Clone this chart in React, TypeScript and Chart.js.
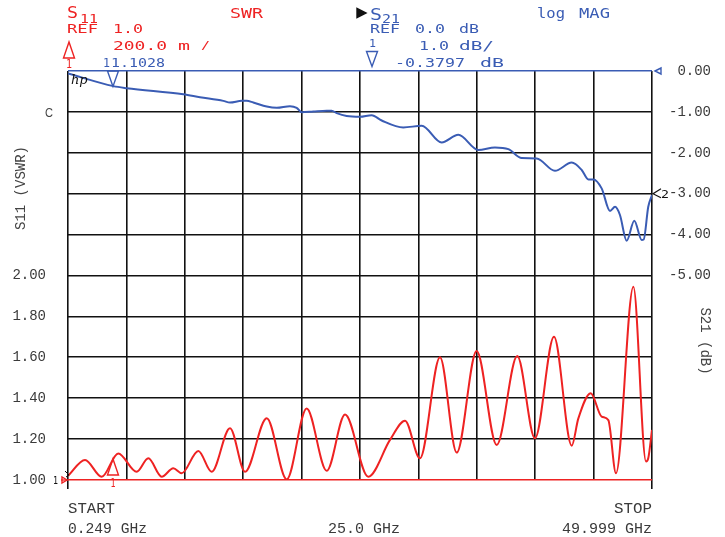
import React, { useEffect, useRef } from "react";
import { Chart, registerables } from "chart.js";

Chart.register(...registerables);

// ---- data ----
const START_GHZ = 0.249;
const STOP_GHZ = 49.999;

const s11Freq = [0.249, 1.7, 3.12, 4.53, 6.1, 7.09, 8.23, 9.22, 9.93, 11.35, 12.49, 14.05, 15.33, 17.18, 18.88, 20.58, 22.29, 23.85, 25.83, 27.68, 28.96, 30.23, 31.94, 33.36, 35.06, 36.77, 38.52, 40.03, 41.65, 43.16, 43.72, 44.78, 45.71, 46.28, 46.93, 48.41, 49.49, 49.68, 49.999];
const s11Vswr = [1.02, 1.098, 1.016, 1.13, 1.04, 1.106, 1.016, 1.057, 1.033, 1.142, 1.04, 1.253, 1.04, 1.302, 1.003, 1.35, 1.045, 1.32, 1.016, 1.196, 1.29, 1.106, 1.6, 1.134, 1.631, 1.171, 1.606, 1.204, 1.7, 1.168, 1.3, 1.424, 1.31, 1.293, 1.033, 1.945, 1.09, 1.106, 1.245];

const s21Freq = [0.249, 4.11, 5.25, 10.07, 11.49, 13.48, 14.05, 15.05, 15.47, 16.03, 17.18, 18.03, 19.16, 19.73, 20.16, 21.15, 22.29, 22.71, 23.14, 23.99, 25.12, 26.12, 26.97, 28.81, 30.38, 32.08, 33.5, 35.2, 36.62, 37.76, 38.9, 40.18, 41.73, 43.16, 44.01, 44.58, 45.0, 45.71, 46.42, 46.85, 47.27, 47.84, 48.49, 49.12, 49.29, 49.68, 49.999];
const s21Db = [-0.06, -0.37, -0.42, -0.57, -0.64, -0.73, -0.77, -0.73, -0.73, -0.77, -0.87, -0.9, -0.86, -0.9, -1.01, -0.99, -0.97, -0.97, -1.03, -1.1, -1.12, -1.08, -1.21, -1.38, -1.34, -1.75, -1.56, -1.93, -1.87, -1.91, -2.13, -2.14, -2.44, -2.24, -2.42, -2.65, -2.65, -2.87, -3.42, -3.32, -3.52, -4.15, -3.66, -4.13, -4.12, -3.32, -3.03];

const markerFreq = [4.08];
const markerS11 = [1.1028];
const markerS21 = [-0.3797];

const vswrLabelMax = 2.0;
const dbLabelMin = -5;
const bottomLabels = ["START", "0.249 GHz", "25.0 GHz", "STOP", "49.999 GHz"];

const RED = "#ee2222";
const BLUE = "#3a5cb4";
const INK = "#111111";
const LABEL = "#3a3a3a";

function fit(ctx: CanvasRenderingContext2D, text: string, x0: number, x1: number, base: number, size: number, color: string, family = "DejaVu Sans Mono") {
  ctx.save();
  ctx.font = `${size}px "${family}"`;
  ctx.fillStyle = color;
  ctx.textBaseline = "alphabetic";
  ctx.textAlign = "left";
  const w = ctx.measureText(text).width;
  ctx.translate(x0, base);
  ctx.scale((x1 - x0) / w, 1);
  ctx.fillText(text, 0, 0);
  ctx.restore();
}

function tri(ctx: CanvasRenderingContext2D, pts: number[][], color: string, fill = false) {
  ctx.save();
  ctx.beginPath();
  ctx.moveTo(pts[0][0], pts[0][1]);
  for (let i = 1; i < pts.length; i++) ctx.lineTo(pts[i][0], pts[i][1]);
  ctx.closePath();
  ctx.lineWidth = 1.4;
  ctx.strokeStyle = color;
  ctx.stroke();
  if (fill) {
    ctx.fillStyle = color;
    ctx.fill();
  }
  ctx.restore();
}

const annotate = {
  id: "annotate",
  afterDatasetsDraw(chart: any) {
    const ctx: CanvasRenderingContext2D = chart.ctx;
    const x = chart.scales.x;
    const y = chart.scales.y;
    const y2 = chart.scales.y2;
    for (let i = 0; i < markerFreq.length; i++) {
      const px = x.getPixelForValue(markerFreq[i]);
      const pyR = y.getPixelForValue(markerS11[i]);
      tri(ctx, [[px, pyR], [px - 5.5, pyR + 16], [px + 5.5, pyR + 16]], RED);
      fit(ctx, String(i + 1), px - 2.5, px + 2.5, pyR + 28, 12, RED);
      const pyB = y2.getPixelForValue(markerS21[i]);
      tri(ctx, [[px, pyB], [px - 5.5, pyB - 15.5], [px + 5.5, pyB - 15.5]], BLUE);
    }
  },
  afterDraw(chart: any) {
    const ctx: CanvasRenderingContext2D = chart.ctx;
    const { left, right, top, bottom } = chart.chartArea;
    // header S11 (red)
    fit(ctx, "S", 67, 78, 18, 15, RED);
    fit(ctx, "11", 80, 98, 23, 13, RED);
    fit(ctx, "SWR", 230, 263, 18, 14, RED);
    fit(ctx, "REF", 67, 98, 33, 12, RED);
    fit(ctx, "1.0", 113, 143, 33, 12, RED);
    fit(ctx, "200.0", 113, 167, 50, 12, RED);
    fit(ctx, "m", 178, 190, 50, 12, RED);
    fit(ctx, "/", 201, 210, 49, 11, RED);
    tri(ctx, [[69, 42], [63.5, 58], [74.5, 58]], RED);
    fit(ctx, "1", 66, 72, 68, 12, RED);
    // marker readout (blue)
    fit(ctx, "1", 103, 110, 67, 13, BLUE);
    fit(ctx, "1.1028", 111, 165, 67, 13, BLUE);
    // header S21 (blue)
    tri(ctx, [[357, 8.5], [357, 17.5], [366, 13]], INK, true);
    fit(ctx, "S", 370, 382, 20, 15, BLUE);
    fit(ctx, "21", 382, 400, 23, 13, BLUE);
    fit(ctx, "log", 537, 565, 18, 14, BLUE);
    fit(ctx, "MAG", 579, 610, 18, 14, BLUE);
    fit(ctx, "REF", 370, 400, 33, 12, BLUE);
    fit(ctx, "0.0", 415, 445, 33, 12, BLUE);
    fit(ctx, "dB", 459, 479, 33, 12, BLUE);
    fit(ctx, "1", 369, 376, 47, 11, BLUE);
    fit(ctx, "1.0", 419, 449, 50, 12, BLUE);
    fit(ctx, "dB/", 459, 494, 50, 12, BLUE);
    tri(ctx, [[366.5, 51.5], [377.5, 51.5], [372, 66.5]], BLUE);
    fit(ctx, "-0.3797", 395, 465, 67, 12, BLUE);
    fit(ctx, "dB", 480, 504, 67, 12, BLUE);
    // reference markers on the graticule edges
    tri(ctx, [[right + 3, top], [right + 9, top - 3], [right + 9, top + 3]], BLUE);
    ctx.save();
    ctx.strokeStyle = INK;
    ctx.lineWidth = 1.2;
    const y2px = chart.scales.y2.getPixelForValue(-3);
    ctx.beginPath();
    ctx.moveTo(right + 9, y2px - 5);
    ctx.lineTo(right + 1, y2px);
    ctx.lineTo(right + 9, y2px + 4);
    ctx.stroke();
    ctx.restore();
    fit(ctx, "2", 661, 669, y2px + 4, 11, INK);
    ctx.save();
    ctx.strokeStyle = RED;
    ctx.lineWidth = 1.3;
    ctx.beginPath();
    ctx.moveTo(61, bottom);
    ctx.lineTo(left, bottom);
    ctx.stroke();
    ctx.restore();
    tri(ctx, [[62, bottom - 3], [62, bottom + 3], [67, bottom]], RED);
    fit(ctx, "1", 53, 58, bottom + 4, 11, INK);
    ctx.save();
    ctx.strokeStyle = INK;
    ctx.lineWidth = 1;
    ctx.beginPath();
    ctx.moveTo(65, bottom - 9);
    ctx.lineTo(69, bottom - 5);
    ctx.lineTo(66, bottom - 3);
    ctx.stroke();
    ctx.restore();
    // hp logo
    ctx.save();
    ctx.font = 'italic 13px "DejaVu Serif"';
    ctx.fillStyle = INK;
    ctx.fillText("hp", 71, 84);
    ctx.restore();
    // "C" mark
    fit(ctx, "C", 45, 53, 117, 13, "#444444", "Liberation Sans");
    // axis titles
    ctx.save();
    ctx.font = '14px "Liberation Mono"';
    ctx.fillStyle = "#444444";
    ctx.textAlign = "center";
    ctx.textBaseline = "middle";
    ctx.translate(21, 188);
    ctx.rotate(-Math.PI / 2);
    ctx.fillText("S11 (VSWR)", 0, 0);
    ctx.restore();
    ctx.save();
    ctx.font = '14px "Liberation Mono"';
    ctx.fillStyle = "#444444";
    ctx.textAlign = "center";
    ctx.textBaseline = "middle";
    ctx.translate(705, 341);
    ctx.rotate(Math.PI / 2);
    ctx.fillText("S21 (dB)", 0, 0);
    ctx.restore();
    // bottom labels
    fit(ctx, bottomLabels[0], left, left + 47, 513, 15, LABEL, "Liberation Mono");
    fit(ctx, bottomLabels[1], left, left + 79, 533, 15, LABEL, "Liberation Mono");
    const mid = chart.scales.x.getPixelForValue((START_GHZ + STOP_GHZ) / 2);
    fit(ctx, bottomLabels[2], mid - 32, mid + 40, 533, 15, LABEL, "Liberation Mono");
    fit(ctx, bottomLabels[3], right - 38, right, 513, 15, LABEL, "Liberation Mono");
    fit(ctx, bottomLabels[4], right - 90, right, 533, 15, LABEL, "Liberation Mono");
  },
};

export default function App() {
  const ref = useRef<HTMLCanvasElement | null>(null);
  useEffect(() => {
    if (!ref.current) return;
    const chart = new Chart(ref.current, {
      type: "line",
      data: {
        datasets: [
          {
            label: "S11",
            data: s11Freq.map((f, i) => ({ x: f, y: s11Vswr[i] })),
            borderColor: RED,
            borderWidth: 2,
            pointRadius: 0,
            cubicInterpolationMode: "monotone",
            yAxisID: "y",
          },
          {
            label: "S21",
            data: s21Freq.map((f, i) => ({ x: f, y: s21Db[i] })),
            borderColor: BLUE,
            borderWidth: 2,
            pointRadius: 0,
            cubicInterpolationMode: "monotone",
            yAxisID: "y2",
          },
        ],
      },
      options: {
        animation: false,
        responsive: false,
        maintainAspectRatio: false,
        layout: { padding: { top: 71, right: 14, bottom: 0, left: 0 } },
        plugins: { legend: { display: false }, tooltip: { enabled: false }, title: { display: false } },
        scales: {
          x: {
            type: "linear",
            min: START_GHZ,
            max: STOP_GHZ,
            afterBuildTicks: (scale: any) => {
              scale.ticks = Array.from({ length: 11 }, (_, i) => ({ value: START_GHZ + (i * (STOP_GHZ - START_GHZ)) / 10 }));
            },
            afterFit: (scale: any) => {
              scale.height = 57;
            },
            ticks: { display: false },
            border: { display: false },
            grid: {
              color: INK,
              lineWidth: 1.6,
              drawTicks: true,
              tickLength: 9,
              tickColor: (c: any) => (c.index === 0 || c.index === 10 ? INK : "rgba(0,0,0,0)"),
            },
          },
          y: {
            type: "linear",
            position: "left",
            min: 1,
            max: 3,
            afterFit: (scale: any) => {
              scale.width = 68;
            },
            ticks: {
              stepSize: 0.2,
              autoSkip: false,
              padding: 22,
              color: LABEL,
              font: { family: "Liberation Mono", size: 14 },
              callback: (v: any) => (Number(v) <= vswrLabelMax + 1e-6 ? Number(v).toFixed(2) : ""),
            },
            border: { display: false },
            grid: {
              drawTicks: false,
              lineWidth: 1.6,
              color: (c: any) => {
                const v = c.tick ? c.tick.value : 0;
                if (Math.abs(v - 1) < 1e-6) return RED;
                if (Math.abs(v - 3) < 1e-6) return BLUE;
                return INK;
              },
            },
          },
          y2: {
            type: "linear",
            position: "right",
            min: -10,
            max: 0,
            afterFit: (scale: any) => {
              scale.width = 59;
            },
            ticks: {
              stepSize: 1,
              autoSkip: false,
              crossAlign: "far",
              color: LABEL,
              font: { family: "Liberation Mono", size: 14 },
              callback: (v: any) => (Number(v) >= dbLabelMin - 1e-6 ? Number(v).toFixed(2) : ""),
            },
            border: { display: false },
            grid: { display: false },
          },
        },
      } as any,
      plugins: [annotate],
    });
    return () => chart.destroy();
  }, []);
  return (
    <div style={{ position: "absolute", left: 0, top: 0, width: 725, height: 537, background: "#fff" }}>
      <canvas ref={ref} width={725} height={537} style={{ display: "block" }} />
    </div>
  );
}
